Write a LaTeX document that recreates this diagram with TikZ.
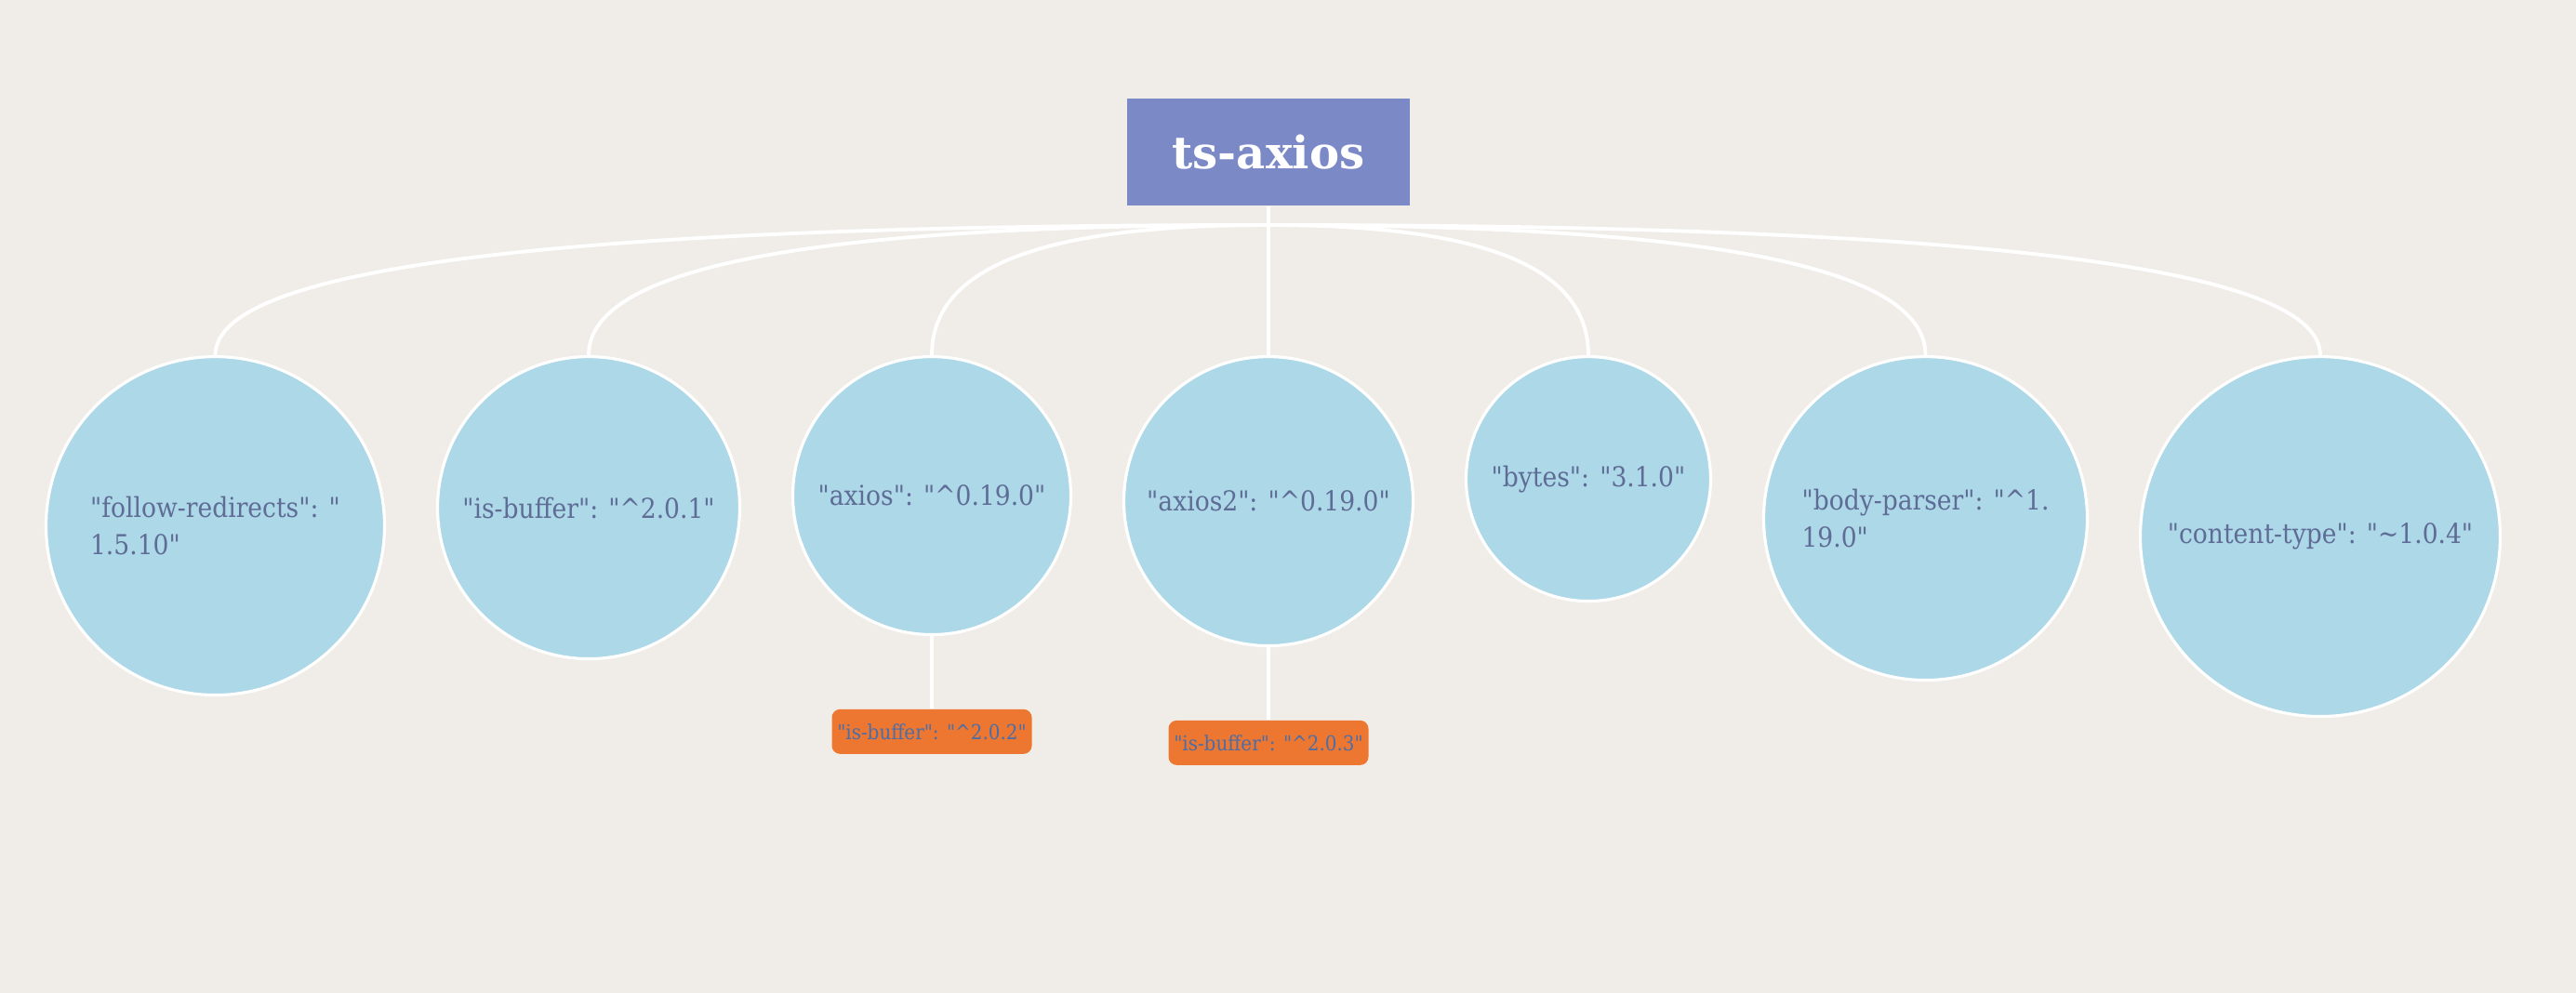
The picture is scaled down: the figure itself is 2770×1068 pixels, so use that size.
\documentclass[tikz,border=0pt]{standalone}
\usepackage{fontspec}
\usepackage{xcolor}
\usepackage{tikz}
\usetikzlibrary{positioning}
\usetikzlibrary{calc}
\newfontfamily\fonteraiz{DejaVu Serif}[Ligatures=TeXOff]
\newfontfamily\fontebola{DejaVu Serif Condensed}[Ligatures=TeXOff]
\definecolor{fundo}{RGB}{240,237,232}
\definecolor{roxo}{RGB}{123,137,199}
\definecolor{azul}{RGB}{173,216,232}
\definecolor{laranja}{RGB}{237,119,49}
\definecolor{tinta}{RGB}{94,108,150}
\definecolor{tinta2}{RGB}{74,110,168}
\tikzset{
  raiz/.style={fill=roxo, text=white, minimum width=30.4mm, minimum height=11.5mm, inner sep=0pt, font=\fonteraiz\bfseries\fontsize{13.7}{16}\selectfont},
  bola/.style={circle, draw=white, line width=0.9pt, fill=azul, minimum size=#1, inner sep=0pt, anchor=north, align=left, text=tinta, font=\fontebola\fontsize{8.4}{11.6}\selectfont},
  bola/.default=30mm,
  etiqueta/.style={fill=laranja, rounded corners=2.5pt, minimum width=21.5mm, minimum height=4.8mm, inner sep=1pt, text=tinta2, font=\fontebola\fontsize{6.3}{7.6}\selectfont},
  fio/.style={draw=white, line width=1.1pt},
}

\begin{document}
\begin{tikzpicture}[x=0.1mm, y=-0.1mm, node distance=7.8mm]
  \fill[fundo] (0,0) rectangle (2770,1068);
  \node[raiz] (raiz) at (1364,164) {ts-axios};
  \coordinate (eixo) at (1364,242);
  \node[bola=36.4mm] (fr) at (231.5,382) {"follow-redirects": "\\1.5.10"};
  \node[bola=32.5mm] (ib) at (633,382) {"is-buffer": "\textasciicircum2.0.1"};
  \node[bola=29.9mm] (ax) at (1002,382) {"axios": "\textasciicircum0.19.0"};
  \node[bola=31.1mm] (ax2) at (1364,382) {"axios2": "\textasciicircum0.19.0"};
  \node[bola=26.3mm] (by) at (1708,382) {"bytes": "3.1.0"};
  \node[bola=34.8mm] (bp) at (2070.5,382) {"body-parser": "\textasciicircum1.\\19.0"};
  \node[bola=38.7mm] (ct) at (2495,382) {"content-type": "\textasciitilde1.0.4"};
  \node[etiqueta, below=of ax] (ib2) {"is-buffer": "\textasciicircum2.0.2"};
  \node[etiqueta, below=of ax2] (ib3) {"is-buffer": "\textasciicircum2.0.3"};
  \draw[fio] (raiz.south) -- (ax2.north);
  \foreach \n in {fr,ib,ax,by,bp,ct}
    \draw[fio] (raiz.south) -- (eixo) .. controls ($(eixo -| \n.north)!.35!(eixo)$) and ($(eixo -| \n.north)!.3!(\n.north)$) .. (\n.north);
  \draw[fio] (ax) -- (ib2); \draw[fio] (ax2) -- (ib3);
\end{tikzpicture}
\end{document}
